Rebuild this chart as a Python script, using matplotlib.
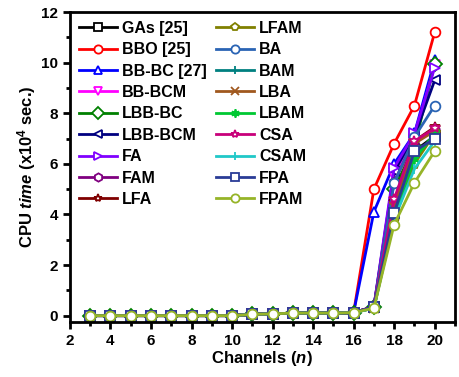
import matplotlib
matplotlib.use("Agg")
import matplotlib.pyplot as plt
from matplotlib.ticker import MultipleLocator

plt.rcParams["font.family"] = ["Liberation Sans", "DejaVu Sans"]
plt.rcParams["font.weight"] = "bold"
plt.rcParams["mathtext.fontset"] = "custom"
plt.rcParams["mathtext.rm"] = "Liberation Sans:bold"
plt.rcParams["mathtext.it"] = "Liberation Sans:bold:italic"
plt.rcParams["mathtext.bf"] = "Liberation Sans:bold"

channels = list(range(3, 21))
base = [0, 0, 0, 0, 0, 0, 0, 0, 0.05, 0.07, 0.1, 0.1, 0.1, 0.12]

gas = base + [0.35, 4.1, 6.5, 7.1]
bbo = base + [5.0, 6.8, 8.3, 11.2]
bbbc = base + [4.1, 6.0, 7.2, 10.1]
bbbcm = base + [0.35, 5.5, 7.0, 9.9]
lbbbc = base + [0.35, 5.0, 6.7, 9.95]
lbbbcm = base + [0.35, 5.7, 7.1, 9.3]
fa = base + [0.35, 5.85, 7.2, 9.8]
fam = base + [0.35, 5.3, 6.9, 7.3]
lfa = base + [0.35, 4.5, 6.9, 7.45]
lfam = base + [0.3, 3.8, 6.0, 7.2]
ba = base + [0.35, 5.25, 7.06, 8.3]
bam = base + [0.3, 4.0, 6.3, 7.1]
lba = base + [0.3, 4.3, 6.8, 7.3]
lbam = base + [0.3, 4.0, 6.2, 7.2]
csa = base + [0.35, 4.6, 6.9, 7.4]
csam = base + [0.3, 3.8, 5.8, 6.9]
fpa = base + [0.35, 4.06, 6.5, 7.0]
fpam = base + [0.3, 3.6, 5.25, 6.5]

labels = ["GAs [25]", "BBO [25]", "BB-BC [27]", "BB-BCM", "LBB-BC", "LBB-BCM",
          "FA", "FAM", "LFA", "LFAM", "BA", "BAM", "LBA", "LBAM", "CSA", "CSAM",
          "FPA", "FPAM"]
series = [gas, bbo, bbbc, bbbcm, lbbbc, lbbbcm, fa, fam, lfa, lfam, ba, bam,
          lba, lbam, csa, csam, fpa, fpam]
colors = ["#000000", "#ff0000", "#0000ff", "#ff00ff", "#008000", "#000080",
          "#8000ff", "#800080", "#800000", "#808000", "#2a64b4", "#008080",
          "#a0581e", "#00c832", "#c8007a", "#20c8c8", "#2a3c96", "#96b428"]
markers = ["s", "o", "^", "v", "D", "<", ">", "h", "*", "p", "o", "|", "x",
           (6, 2, 0), "*", "|", "s", "o"]

fig = plt.figure(figsize=(4.6, 3.77), dpi=100)
ax = fig.add_axes([0.152, 0.146, 0.837, 0.822])

for y, lab, c, m in zip(series, labels, colors, markers):
    ax.plot(channels, y, color=c, marker=m, markersize=7, markerfacecolor="white",
            markeredgecolor=c, markeredgewidth=1.3, linewidth=2, label=lab)

ax.set_xlim(2, 21)
ax.set_ylim(-0.25, 12)
ax.xaxis.set_major_locator(MultipleLocator(2))
ax.xaxis.set_minor_locator(MultipleLocator(1))
ax.yaxis.set_major_locator(MultipleLocator(2))
ax.yaxis.set_minor_locator(MultipleLocator(1))
ax.tick_params(which="major", direction="out", length=5, width=2, labelsize=11)
ax.tick_params(which="minor", direction="out", length=3, width=2)
for s in ax.spines.values():
    s.set_linewidth(2)

ax.set_xlabel(r"Channels ($n$)", fontsize=12, fontweight="bold", labelpad=1)
ax.set_ylabel(r"CPU $time$ (x10$^{4}$ sec.)", fontsize=12, fontweight="bold", labelpad=2)

ax.legend(ncol=2, loc="upper left", frameon=False, fontsize=11.5, handlelength=2.4,
          labelspacing=0.4, columnspacing=0.6, handletextpad=0.3,
          borderaxespad=0.15, markerscale=0.85)

fig.savefig("out.png", dpi=100)
